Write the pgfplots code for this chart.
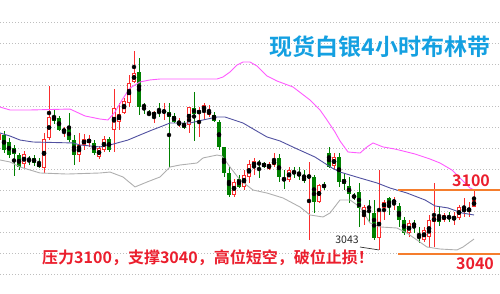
\documentclass[border=0pt]{standalone}
\usepackage{pgfplots}
\pgfplotsset{compat=1.18}
\usepackage{pgfplotstable}
\usepackage{fontspec}
\setmainfont{Noto Sans CJK SC}[BoldFont={Noto Sans CJK SC Bold}]
\definecolor{cg}{RGB}{0,128,0}
\definecolor{cr}{RGB}{250,45,45}
\definecolor{cup}{RGB}{255,90,255}
\definecolor{cmid}{RGB}{80,80,160}
\definecolor{clow}{RGB}{175,175,175}
\definecolor{ctitle}{RGB}{20,160,225}
\definecolor{ctext}{RGB}{235,30,45}
\definecolor{corange}{RGB}{245,125,45}
\definecolor{cgrid}{RGB}{190,190,190}

\pgfplotstableread{
i o h l c
0 3147.6 3156.2 3145.7 3153.3
5 3124.8 3137.1 3121.0 3134.3
9 3121.0 3154.3 3116.2 3148.6
10 3149.5 3199.0 3147.6 3169.5
13 3155.2 3160.0 3150.5 3158.1
16 3133.3 3154.3 3126.7 3142.9
17 3142.9 3153.3 3138.1 3148.6
18 3144.8 3152.4 3141.0 3148.6
20 3131.4 3141.9 3129.5 3140.0
21 3138.1 3151.4 3136.2 3148.6
23 3157.1 3196.2 3136.2 3178.1
24 3164.8 3182.9 3157.1 3172.4
25 3173.3 3187.6 3172.4 3184.8
26 3182.9 3209.5 3179.0 3201.9
27 3202.9 3232.4 3201.9 3211.4
31 3170.5 3175.2 3163.8 3174.3
33 3173.3 3182.9 3166.7 3176.2
36 3161.9 3168.6 3160.0 3164.8
38 3161.9 3179.0 3154.3 3179.0
40 3173.3 3179.0 3150.5 3175.2
41 3175.2 3182.9 3167.6 3181.0
42 3171.4 3181.0 3169.5 3176.2
47 3095.2 3110.5 3093.3 3107.6
49 3102.9 3119.0 3100.0 3114.3
50 3112.4 3128.6 3106.7 3124.8
51 3121.9 3130.5 3114.3 3127.6
54 3120.0 3126.7 3119.0 3124.8
55 3123.8 3135.2 3121.9 3128.6
58 3109.5 3121.9 3107.6 3119.0
62 3111.4 3126.7 3052.4 3114.3
64 3088.6 3105.7 3087.6 3104.8
67 3122.9 3135.2 3119.0 3131.4
73 3074.3 3085.7 3066.7 3083.8
76 3054.3 3119.0 3042.9 3081.0
77 3082.9 3090.5 3071.4 3088.6
79 3087.6 3093.3 3081.0 3090.5
82 3059.0 3071.4 3055.2 3068.6
85 3052.4 3064.8 3050.5 3061.9
86 3055.2 3076.2 3044.8 3071.4
87 3069.5 3106.7 3045.7 3074.3
89 3071.4 3078.1 3069.5 3076.2
91 3072.4 3079.0 3066.7 3074.3
92 3073.3 3085.7 3071.4 3083.8
93 3080.0 3092.4 3074.3 3081.9
94 3080.0 3088.6 3074.3 3081.9
95 3083.8 3100.0 3083.8 3090.5
}\redtab

\pgfplotstableread{
i o h l c
1 3152.4 3156.2 3135.2 3138.1
2 3145.7 3149.5 3130.5 3133.3
3 3140.0 3142.9 3113.3 3134.3
4 3133.3 3135.2 3119.0 3121.9
6 3129.5 3132.4 3123.8 3128.6
7 3130.5 3133.3 3122.9 3125.7
8 3125.7 3130.5 3121.0 3121.9
11 3170.5 3176.2 3162.9 3165.7
12 3168.6 3170.5 3156.2 3157.1
14 3159.0 3173.3 3145.7 3147.6
15 3147.6 3152.4 3123.8 3133.3
19 3144.8 3147.6 3133.3 3135.2
22 3148.6 3150.5 3136.2 3138.1
28 3212.4 3225.7 3171.4 3179.0
29 3181.0 3182.9 3172.4 3179.0
30 3173.3 3176.2 3170.5 3171.4
32 3175.2 3182.9 3169.5 3173.3
34 3174.3 3182.9 3121.9 3169.5
35 3170.5 3173.3 3163.8 3164.8
37 3163.8 3165.7 3158.1 3159.0
39 3178.1 3193.3 3146.7 3172.4
43 3171.4 3174.3 3164.8 3165.7
44 3164.8 3166.7 3138.1 3141.0
45 3141.0 3141.0 3112.4 3116.2
46 3116.2 3121.9 3093.3 3095.2
48 3110.5 3114.3 3101.9 3102.9
52 3125.7 3128.6 3111.4 3124.8
53 3125.7 3126.7 3121.0 3121.9
56 3130.5 3134.3 3107.6 3112.4
57 3111.4 3119.0 3101.0 3109.5
59 3118.1 3121.9 3111.4 3116.2
60 3116.2 3121.9 3109.5 3113.3
61 3112.4 3119.0 3106.7 3108.6
63 3112.4 3114.3 3078.1 3088.6
65 3104.8 3107.6 3100.0 3102.9
66 3135.2 3141.0 3121.0 3121.9
68 3131.4 3135.2 3102.9 3107.6
69 3110.5 3116.2 3100.0 3105.7
70 3103.8 3112.4 3087.6 3096.2
71 3095.2 3097.1 3090.5 3092.4
72 3098.1 3106.7 3064.8 3082.9
74 3083.8 3090.5 3069.5 3082.9
75 3078.1 3090.5 3052.4 3054.3
78 3092.4 3093.3 3076.2 3083.8
80 3084.8 3087.6 3064.8 3071.4
81 3071.4 3074.3 3057.1 3059.0
83 3068.6 3071.4 3059.0 3065.7
84 3056.2 3064.8 3049.5 3054.3
88 3075.2 3084.8 3065.7 3069.5
90 3074.3 3079.0 3069.5 3073.3
}\greentab

\pgfplotstableread{
x y
0.2 3179.0
2.2 3176.2
6.2 3176.2
14.2 3177.1
17.2 3170.5
20.2 3167.6
21.8 3166.7
23.2 3174.3
24.6 3185.7
26.2 3197.1
28.2 3202.9
30.2 3204.8
32.2 3205.7
43.6 3205.7
44.8 3207.6
46.2 3212.4
47.6 3219.0
48.8 3221.9
50.2 3221.9
51.6 3218.1
53.6 3208.6
55.6 3203.8
58.8 3198.1
62.2 3185.7
64.2 3176.2
65.6 3166.7
67.2 3155.2
68.2 3146.7
69.8 3136.2
72.2 3135.2
73.6 3141.0
74.8 3144.8
76.8 3141.0
79.2 3139.0
83.2 3134.3
86.2 3129.5
88.2 3125.7
90.6 3119.0
92.6 3109.5
94.2 3101.9
95.0 3100.0
}\uppertab

\pgfplotstableread{
x y
0.2 3154.3
2.2 3151.4
4.2 3147.6
6.8 3145.7
14.8 3144.8
16.2 3142.9
20.2 3141.0
22.2 3142.9
25.8 3147.6
28.2 3152.4
30.6 3157.1
32.2 3160.0
34.2 3163.8
38.2 3163.8
40.8 3166.7
43.6 3169.5
45.2 3169.5
48.8 3163.8
51.2 3157.1
53.6 3150.5
56.2 3146.7
59.2 3140.0
63.2 3131.4
66.6 3121.0
68.2 3117.1
72.2 3111.4
75.6 3106.7
78.2 3101.9
81.6 3097.1
85.2 3090.5
87.2 3084.8
89.8 3082.9
92.6 3078.1
95.0 3076.2
}\midtab

\pgfplotstableread{
x y
0.2 3128.6
2.2 3126.7
4.2 3121.9
8.2 3116.2
13.6 3115.2
20.2 3116.2
22.2 3117.1
24.8 3112.4
27.2 3102.9
29.6 3107.6
32.2 3112.4
34.2 3121.9
36.2 3123.8
39.6 3125.7
40.8 3130.5
43.6 3133.3
44.6 3132.4
46.2 3121.9
48.2 3109.5
50.8 3100.0
53.6 3097.1
56.8 3092.4
60.2 3083.8
62.2 3076.2
64.8 3074.3
66.2 3078.1
68.2 3090.5
70.2 3090.5
72.2 3083.8
74.2 3068.6
76.2 3064.8
79.6 3063.8
81.6 3059.0
85.6 3045.7
88.2 3043.8
91.6 3042.9
92.8 3045.7
95.0 3053.3
}\lowertab

\begin{document}
\begin{tikzpicture}
\begin{axis}[name=ax, width=500pt, height=294pt, scale only axis,
  xmin=0.2, xmax=100.2, ymin=3000.95, ymax=3280.95,
  axis line style={draw=none}, xtick=\empty,
  ytick={3020,3040,...,3260}, yticklabels={}, major tick length=0pt,
  ymajorgrids, grid style={cgrid, line width=0.8pt, dash pattern=on 1.2pt off 1.8pt}]

% green wicks and bodies
\addplot[only marks, mark=none, error bars/.cd, y dir=both, y explicit, error mark=none,
  error bar style={draw=cg, line width=0.9pt, solid}]
  table[x=i, y expr={(\thisrow{h}+\thisrow{l})/2}, y error expr={(\thisrow{h}-\thisrow{l})/2}] {\greentab};
\addplot[only marks, mark=none, error bars/.cd, y dir=both, y explicit, error mark=none,
  error bar style={draw=cg, line width=3.8pt, solid}]
  table[x=i, y expr={(\thisrow{o}+\thisrow{c})/2}, y error expr={max(abs(\thisrow{o}-\thisrow{c})/2,0.5)}] {\greentab};

% red wicks and hollow bodies
\addplot[only marks, mark=none, error bars/.cd, y dir=both, y explicit, error mark=none,
  error bar style={draw=cr, line width=0.9pt, solid}]
  table[x=i, y expr={(\thisrow{h}+\thisrow{l})/2}, y error expr={(\thisrow{h}-\thisrow{l})/2}] {\redtab};
\addplot[only marks, mark=none, error bars/.cd, y dir=both, y explicit, error mark=none,
  error bar style={draw=cr, line width=3.8pt, solid}]
  table[x=i, y expr={(\thisrow{o}+\thisrow{c})/2}, y error expr={max(abs(\thisrow{o}-\thisrow{c})/2,0.5)}] {\redtab};
\addplot[only marks, mark=none, error bars/.cd, y dir=both, y explicit, error mark=none,
  error bar style={draw=white, line width=2.0pt, solid}]
  table[x=i, y expr={(\thisrow{o}+\thisrow{c})/2}, y error expr={max(abs(\thisrow{o}-\thisrow{c})/2-0.85,0)}] {\redtab};

% Bollinger bands
\addplot[cup, line width=0.9pt] table[x=x, y=y] {\uppertab};
\addplot[cmid, line width=0.9pt] table[x=x, y=y] {\midtab};
\addplot[clow, line width=0.9pt] table[x=x, y=y] {\lowertab};

% levels
\addplot[corange, line width=2pt] coordinates {(79.8,3100) (100.2,3100)};
\addplot[corange, line width=2pt] coordinates {(79.8,3039.5) (100.2,3039.5)};
\addplot[black!80, line width=0.7pt] coordinates {(72.2,3045.7) (76.0,3042.9)};

\node[font=\bfseries\fontsize{23}{23}\selectfont, text=ctitle] at (rel axis cs:0.76,0.840) {现货白银4小时布林带};
\node[font=\bfseries\fontsize{16}{16}\selectfont, text=ctext] at (rel axis cs:0.416,0.122) {压力3100，支撑3040，高位短空，破位止损！};
\node[font=\bfseries\fontsize{16}{16}\selectfont, text=ctext] at (rel axis cs:0.942,0.384) {3100};
\node[font=\bfseries\fontsize{16}{16}\selectfont, text=ctext] at (rel axis cs:0.950,0.102) {3040};
\node[font=\fontsize{10.5}{10.5}\selectfont, text=black!85] at (rel axis cs:0.694,0.184) {3043};
\end{axis}
\pgfresetboundingbox
\useasboundingbox (ax.south west) rectangle (ax.north east);
\end{tikzpicture}
\end{document}
